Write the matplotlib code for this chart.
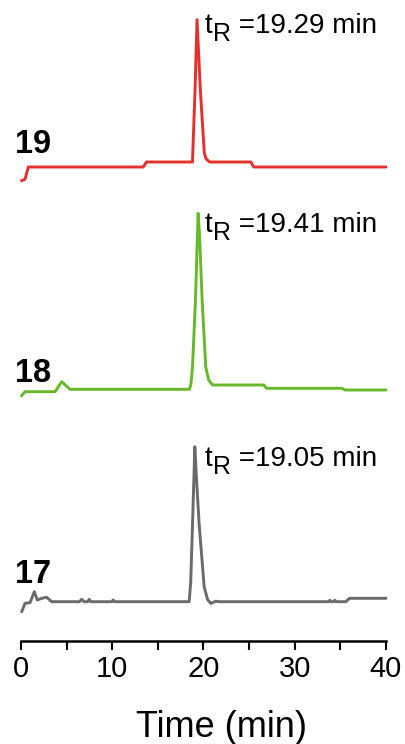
import matplotlib
matplotlib.use("Agg")
import matplotlib.pyplot as plt

# Chromatogram traces: retention time (min) and detector signal (a.u.)
red_t = [0.05, 0.44, 0.8, 13.4, 13.75, 18.79, 19.07, 19.29, 19.66, 20.09, 20.29, 20.69, 25.2, 25.5, 40.0]
red_s = [-13.7, -12.3, 0, 0, 5, 5, 76, 147.4, 76, 14, 8, 5, 5, 0, 0]

green_t = [0.05, 0.44, 3.73, 4.46, 5.37, 18.46, 18.62, 18.79, 19.12, 19.34, 19.41, 19.56, 19.85,
           20.25, 20.58, 21.0, 26.6, 26.9, 35.2, 35.5, 40.0]
green_s = [-6.7, -2.4, -2.4, 7.6, 0, 0, 5, 22, 89, 156, 176, 156, 89, 22, 9, 4.3, 4.3, 1, 1, -0.7, -0.7]

gray_t = [0.08, 0.44, 0.99, 1.46, 1.79, 2.27, 2.82, 3.36, 6.4, 6.65, 6.9, 7.3, 7.48, 7.65,
          9.95, 10.1, 10.25, 18.43, 18.6, 18.8, 19.05, 19.25, 19.52, 20.07, 20.45, 20.8, 21.35,
          21.7, 33.7, 33.85, 34.0, 34.25, 34.4, 34.55, 35.6, 36.0, 40.0]
gray_s = [-10, -1.6, -1, 10, 1.7, 3.4, 4.4, 0, 0, 2.4, 0, 0, 2.4, 0, 0, 1.7, 0, 0, 20, 78, 155,
          120, 78, 15, 2, -1.7, 0.5, 0, 0, 1.5, 0, 0, 1.5, 0, 0, 3.4, 3.4]

compounds = ["19", "18", "17"]
retention = ["19.29", "19.41", "19.05"]
colors = ["#e3302c", "#67b82a", "#6a6a6a"]
offsets = [473.7, 251.4, 39.0]

x_ticks = [0, 5, 10, 15, 20, 25, 30, 35, 40]
x_ticklabels = ["0", "", "10", "", "20", "", "30", "", "40"]

regular = ["Liberation Sans", "DejaVu Sans"]

fig = plt.figure(figsize=(4.06, 7.44), dpi=100)
fig.patch.set_facecolor("white")
ax = fig.add_axes([21 / 406, (744 - 640.7) / 744, 365 / 406, 640.7 / 744])
ax.set_facecolor("none")

traces = [(red_t, red_s), (green_t, green_s), (gray_t, gray_s)]
for (t, s), off, col in zip(traces, offsets, colors):
    ax.plot(t, [v + off for v in s], color=col, lw=2.1, solid_joinstyle="round",
            solid_capstyle="round", clip_on=False)

ax.set_xlim(0, 40)
ax.set_ylim(0, 640.7)

for sp in ("left", "right", "top"):
    ax.spines[sp].set_visible(False)
ax.spines["bottom"].set_linewidth(1.8)
ax.set_yticks([])
ax.set_xticks(x_ticks)
ax.set_xticklabels(x_ticklabels, family=regular, fontsize=21)
ax.tick_params(axis="x", direction="out", length=6.7, width=1.5, pad=3.5)

# compound numbers
num_y = [487.4, 259.0, 57.4]
for name, y in zip(compounds, num_y):
    ax.text(-0.66, y, name, family=regular, fontweight="bold", fontsize=23.5,
            ha="left", va="baseline", clip_on=False)

# retention-time labels
lab_y = [601.4, 402.4, 169.0]
for rt, y in zip(retention, lab_y):
    t_txt = ax.text(20.16, y, "t", family=regular, fontsize=20, ha="left", va="bottom")
    r_txt = ax.annotate("R", xy=(1, 0), xycoords=t_txt, xytext=(0.3, -5),
                        textcoords="offset points", family=regular, fontsize=18,
                        ha="left", va="bottom")
    ax.annotate(" =" + rt + " min", xy=(1, 0), xycoords=r_txt, xytext=(0, 5),
                textcoords="offset points", family=regular, fontsize=20,
                ha="left", va="bottom")

fig.text(221.5 / 406, (744 - 736.7) / 744, "Time (min)", family=regular, fontsize=26,
         ha="center", va="baseline")

fig.savefig("out.png", dpi=100)
